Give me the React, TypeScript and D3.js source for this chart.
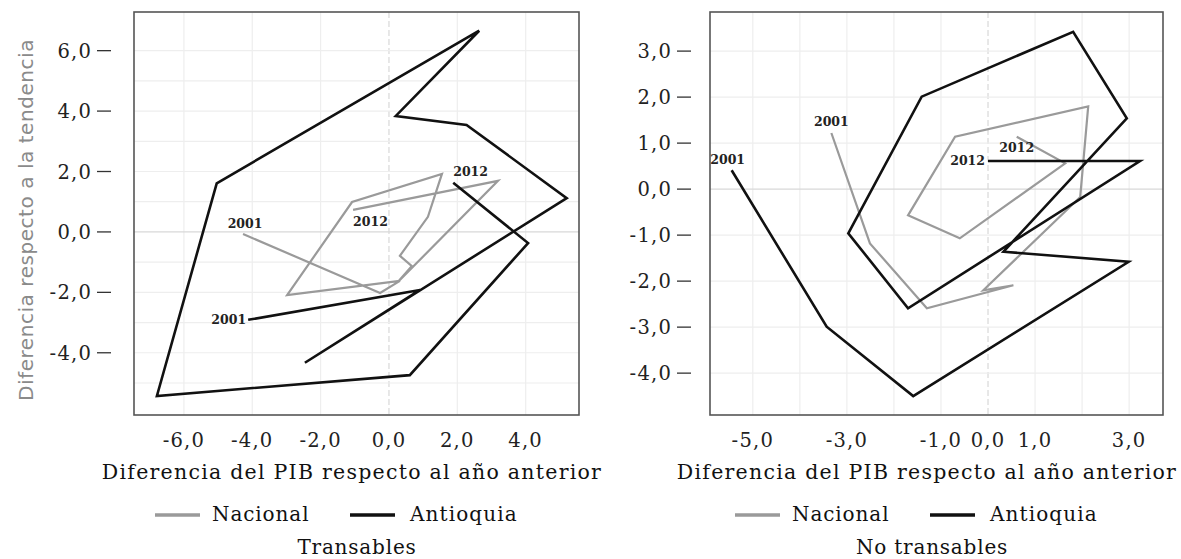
import React from "react";
import * as d3 from "d3";

// ---------- DATA ----------
const years = [2001, 2002, 2003, 2004, 2005, 2006, 2007, 2008, 2009, 2010, 2011, 2012];

// Transables
const transNacionalX = [-4.27, -0.26, 0.32, -2.98, -1.08, 1.55, 1.14, 0.32, 0.67, 0.26, 3.19, -1.05];
const transNacionalY = [-0.07, -2.02, -1.62, -2.09, 0.99, 1.92, 0.5, -0.79, -1.13, -1.66, 1.69, 0.73];
const transAntioquiaX = [-4.12, 0.91, -2.46, 5.2, 2.27, 0.2, 2.64, -5.04, -6.79, 0.61, 4.07, 1.88];
const transAntioquiaY = [-2.91, -1.92, -4.33, 1.12, 3.54, 3.84, 6.66, 1.61, -5.43, -4.74, -0.37, 1.63];

// No transables
const noTransNacionalX = [-3.33, -2.51, -1.3, 0.54, -0.1, 1.96, 2.13, -0.7, -1.7, -0.6, 1.64, 0.61];
const noTransNacionalY = [1.22, -1.18, -2.59, -2.09, -2.2, -0.17, 1.8, 1.14, -0.57, -1.07, 0.56, 1.14];
const noTransAntioquiaX = [-5.45, -3.43, -1.59, 2.99, 0.33, 2.95, 1.81, -1.41, -2.97, -1.7, 3.23, 0.0];
const noTransAntioquiaY = [0.41, -2.99, -4.5, -1.58, -1.36, 1.54, 3.42, 2.01, -0.96, -2.59, 0.61, 0.61];

// Ticks
const transXTicks = [-6, -4, -2, 0, 2, 4];
const transYTicks = [6, 4, 2, 0, -2, -4];
const noTransXTicks = [-5, -3, -1, 0, 1, 3];
const noTransYTicks = [3, 2, 1, 0, -1, -2, -3, -4];

const seriesNames = ["Nacional", "Antioquia"];
const xTitle = "Diferencia del PIB respecto al año anterior";
const yTitle = "Diferencia respecto a la tendencia";
const panelTitles = ["Transables", "No transables"];

// ---------- STYLE ----------
const GRAY = "#9a9a9a";
const BLACK = "#111111";
const SERIF = "'DejaVu Serif', serif";
const SANS = "'DejaVu Sans', sans-serif";

const locale = d3.formatLocale({
  decimal: ",",
  thousands: ".",
  grouping: [3],
  currency: ["", ""],
  minus: "-",
});
const fmt = locale.format(".1f");

type LabelSpec = { anchor: "start" | "middle" | "end"; dx: number; dy: number };

type PanelProps = {
  frame: { x0: number; x1: number; y0: number; y1: number };
  xDomain: [number, number];
  yDomain: [number, number];
  xTicks: number[];
  yTicks: number[];
  xGrid: number[];
  yGrid: number[];
  nacX: number[];
  nacY: number[];
  antX: number[];
  antY: number[];
  labels: { nacStart: LabelSpec; nacEnd: LabelSpec; antStart: LabelSpec; antEnd: LabelSpec };
  title: string;
  titleX: number;
  legendX: number;
  yLabelGap: number;
};

function Panel(p: PanelProps) {
  const { frame } = p;
  const x = d3.scaleLinear().domain(p.xDomain).range([frame.x0, frame.x1]);
  const y = d3.scaleLinear().domain(p.yDomain).range([frame.y1, frame.y0]);
  const line = d3
    .line<[number, number]>()
    .x((d) => x(d[0]))
    .y((d) => y(d[1]));
  const nac: [number, number][] = p.nacX.map((v, i) => [v, p.nacY[i]]);
  const ant: [number, number][] = p.antX.map((v, i) => [v, p.antY[i]]);

  const yearLabel = (pt: [number, number], year: number, spec: LabelSpec, key: string) => (
    <text
      key={key}
      x={x(pt[0]) + spec.dx}
      y={y(pt[1]) + spec.dy}
      textAnchor={spec.anchor}
      fontFamily={SERIF}
      fontWeight="bold"
      fontSize={12.5}
      fill="#222"
    >
      {year}
    </text>
  );

  const last = years.length - 1;
  const lx = p.legendX;
  const g = p.yLabelGap;

  return (
    <g>
      {/* grid */}
      {p.xGrid.map((v) => (
        <line
          key={"gx" + v}
          x1={x(v)}
          x2={x(v)}
          y1={frame.y0}
          y2={frame.y1}
          stroke={v === 0 ? "#d8d8d8" : "#eeeeee"}
          strokeWidth={1.2}
          strokeDasharray={v === 0 ? "6,3" : undefined}
        />
      ))}
      {p.yGrid.map((v) => (
        <line
          key={"gy" + v}
          x1={frame.x0}
          x2={frame.x1}
          y1={y(v)}
          y2={y(v)}
          stroke={v === 0 ? "#d8d8d8" : "#eeeeee"}
          strokeWidth={1.2}
        />
      ))}
      {/* frame */}
      <rect
        x={frame.x0}
        y={frame.y0}
        width={frame.x1 - frame.x0}
        height={frame.y1 - frame.y0}
        fill="none"
        stroke="#555"
        strokeWidth={1.6}
      />
      {/* series */}
      <path d={line(nac) || ""} fill="none" stroke={GRAY} strokeWidth={2.2} strokeLinejoin="miter" />
      <path d={line(ant) || ""} fill="none" stroke={BLACK} strokeWidth={2.6} strokeLinejoin="miter" />
      {yearLabel(nac[0], years[0], p.labels.nacStart, "ns")}
      {yearLabel(nac[last], years[last], p.labels.nacEnd, "ne")}
      {yearLabel(ant[0], years[0], p.labels.antStart, "as")}
      {yearLabel(ant[last], years[last], p.labels.antEnd, "ae")}
      {/* y ticks */}
      {p.yTicks.map((v) => (
        <g key={"yt" + v}>
          <text
            x={frame.x0 - g}
            y={y(v)}
            dy="0.36em"
            textAnchor="end"
            fontFamily={SERIF}
            fontSize={19.5}
            letterSpacing={1.2}
            fill="#222"
          >
            {fmt(v)}
          </text>
          <line
            x1={frame.x0 - g + 5}
            x2={frame.x0 - g + 19}
            y1={y(v)}
            y2={y(v)}
            stroke="#333"
            strokeWidth={1.3}
          />
        </g>
      ))}
      {/* x ticks */}
      {p.xTicks.map((v) => (
        <text
          key={"xt" + v}
          x={x(v)}
          y={447}
          textAnchor="middle"
          fontFamily={SERIF}
          fontSize={19.5}
          letterSpacing={1.2}
          fill="#222"
        >
          {fmt(v)}
        </text>
      ))}
      {/* x title */}
      <text
        x={p.titleX}
        y={479}
        textAnchor="middle"
        fontFamily={SERIF}
        fontSize={20.5}
        letterSpacing={1.25}
        fill="#111"
      >
        {xTitle}
      </text>
      {/* legend */}
      <line x1={lx} x2={lx + 45} y1={515} y2={515} stroke={GRAY} strokeWidth={3.5} />
      <text x={lx + 57} y={521} fontFamily={SERIF} fontSize={20} letterSpacing={0.9} fill="#111">
        {seriesNames[0]}
      </text>
      <line x1={lx + 195} x2={lx + 240} y1={515} y2={515} stroke={BLACK} strokeWidth={3.5} />
      <text x={lx + 255} y={521} fontFamily={SERIF} fontSize={20} letterSpacing={1.1} fill="#111">
        {seriesNames[1]}
      </text>
      {/* panel title */}
      <text
        x={p.titleX + 5}
        y={554}
        textAnchor="middle"
        fontFamily={SERIF}
        fontSize={20}
        letterSpacing={0.8}
        fill="#111"
      >
        {p.title}
      </text>
    </g>
  );
}

export default function App() {
  return (
    <svg
      width={1181}
      height={559}
      style={{ position: "absolute", left: 0, top: 0, background: "#fff" }}
    >
      <rect width={1181} height={559} fill="#fff" />
      <text
        transform="translate(33,220) rotate(-90)"
        textAnchor="middle"
        fontFamily={SANS}
        fontSize={20}
        letterSpacing={0.55}
        fill="#8a8a8a"
      >
        {yTitle}
      </text>
      <Panel
        frame={{ x0: 134, x1: 579, y0: 12, y1: 415 }}
        xDomain={[-7.46, 5.56]}
        yDomain={[-6.06, 7.28]}
        xTicks={transXTicks}
        yTicks={transYTicks}
        xGrid={[-6, -4, -2, 0, 2, 4]}
        yGrid={[6, 5, 4, 3, 2, 1, 0, -1, -2, -3, -4, -5]}
        nacX={transNacionalX}
        nacY={transNacionalY}
        antX={transAntioquiaX}
        antY={transAntioquiaY}
        labels={{
          nacStart: { anchor: "middle", dx: 2, dy: -6 },
          nacEnd: { anchor: "start", dx: 0, dy: 16 },
          antStart: { anchor: "end", dx: -2, dy: 4 },
          antEnd: { anchor: "start", dx: 0, dy: -7 },
        }}
        title={panelTitles[0]}
        titleX={352}
        legendX={155}
        yLabelGap={42}
      />
      <Panel
        frame={{ x0: 710, x1: 1163, y0: 12, y1: 415 }}
        xDomain={[-5.91, 3.72]}
        yDomain={[-4.91, 3.85]}
        xTicks={noTransXTicks}
        yTicks={noTransYTicks}
        xGrid={[-5, -4, -3, -2, -1, 0, 1, 2, 3]}
        yGrid={[3, 2, 1, 0, -1, -2, -3, -4]}
        nacX={noTransNacionalX}
        nacY={noTransNacionalY}
        antX={noTransAntioquiaX}
        antY={noTransAntioquiaY}
        labels={{
          nacStart: { anchor: "middle", dx: 0, dy: -7 },
          nacEnd: { anchor: "middle", dx: 0, dy: 15 },
          antStart: { anchor: "middle", dx: -4, dy: -6 },
          antEnd: { anchor: "end", dx: -3, dy: 4 },
        }}
        title={panelTitles[1]}
        titleX={927}
        legendX={735}
        yLabelGap={38}
      />
    </svg>
  );
}
